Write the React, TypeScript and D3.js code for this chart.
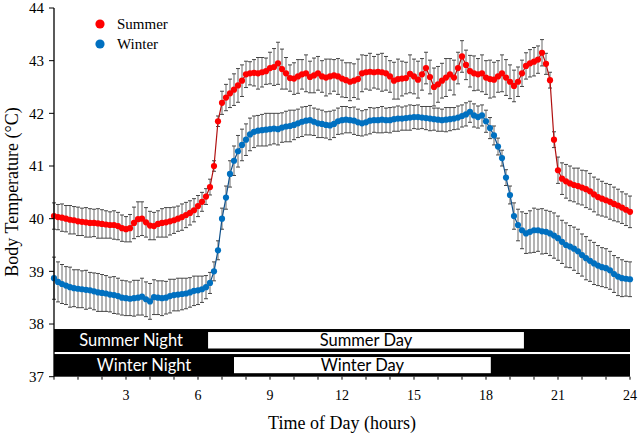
import React from "react";
import * as d3 from "d3";

// Time step: 10 minutes (0 .. 24 h)
const STEP_HOURS = 1 / 6;

const summerTemp: number[] = [
  40.05, 40.03, 40.02, 40.0, 39.98, 39.97,
  39.95, 39.94, 39.93, 39.92, 39.92, 39.91,
  39.9, 39.89, 39.88, 39.88, 39.86, 39.82,
  39.8, 39.82, 39.92, 39.99, 40.0, 39.93,
  39.87, 39.86, 39.9, 39.92, 39.93, 39.95,
  39.97, 40.0, 40.03, 40.07, 40.11, 40.16,
  40.24, 40.32, 40.42, 40.6, 41.0, 41.85,
  42.2, 42.3, 42.38, 42.45, 42.53, 42.62,
  42.74, 42.76, 42.77, 42.76, 42.78, 42.8,
  42.86, 42.88, 42.95, 42.84, 42.76, 42.67,
  42.66, 42.7, 42.74, 42.76, 42.69, 42.72,
  42.76, 42.7, 42.68, 42.7, 42.72, 42.7,
  42.66, 42.63, 42.6, 42.62, 42.65, 42.76,
  42.78, 42.79, 42.78, 42.79, 42.78, 42.76,
  42.7, 42.62, 42.65, 42.66, 42.67, 42.75,
  42.7, 42.64, 42.74, 42.86, 42.69, 42.5,
  42.55, 42.62, 42.68, 42.74, 42.68, 42.86,
  43.08, 42.92, 42.8, 42.76, 42.74, 42.76,
  42.68, 42.65, 42.64, 42.7, 42.76, 42.68,
  42.6, 42.52, 42.6, 42.76, 42.9, 42.95,
  42.98, 43.02, 43.15, 42.94, 42.63, 41.5,
  40.92, 40.76, 40.71, 40.67, 40.64, 40.62,
  40.59, 40.56, 40.52, 40.46, 40.41, 40.38,
  40.35, 40.32, 40.28, 40.25, 40.21, 40.17,
  40.13,
];

const summerErr: number[] = [
  0.25, 0.24, 0.26, 0.25, 0.27, 0.26,
  0.27, 0.26, 0.28, 0.27, 0.26, 0.28,
  0.27, 0.26, 0.25, 0.27, 0.26, 0.25,
  0.24, 0.26, 0.3, 0.33, 0.32, 0.28,
  0.27, 0.26, 0.25, 0.27, 0.28, 0.26,
  0.25, 0.24, 0.25, 0.24, 0.23, 0.22,
  0.2, 0.18, 0.15, 0.15, 0.1, 0.1,
  0.22, 0.25, 0.27, 0.3, 0.32, 0.3,
  0.25, 0.22, 0.25, 0.3, 0.28, 0.25,
  0.3, 0.35, 0.4, 0.38, 0.3, 0.25,
  0.3, 0.32, 0.28, 0.35, 0.3, 0.33,
  0.32, 0.3, 0.35, 0.33, 0.3, 0.34,
  0.35, 0.33, 0.36, 0.32, 0.38, 0.35,
  0.32, 0.35, 0.3, 0.33, 0.36, 0.32,
  0.3, 0.35, 0.38, 0.33, 0.3, 0.36,
  0.33, 0.35, 0.3, 0.3, 0.32, 0.36,
  0.34, 0.33, 0.36, 0.3, 0.33, 0.3,
  0.3, 0.28, 0.3, 0.33, 0.3, 0.35,
  0.32, 0.36, 0.33, 0.3, 0.35, 0.34,
  0.32, 0.3, 0.28, 0.25, 0.25, 0.26,
  0.27, 0.26, 0.25, 0.2, 0.15, 0.15,
  0.25, 0.3, 0.32, 0.33, 0.32, 0.34,
  0.33, 0.35, 0.34, 0.33, 0.34, 0.33,
  0.32, 0.33, 0.32, 0.31, 0.3, 0.3,
  0.3,
];

const winterTemp: number[] = [
  38.87, 38.8, 38.76, 38.73, 38.7, 38.68,
  38.67, 38.66, 38.65, 38.64, 38.62, 38.6,
  38.59, 38.58, 38.56, 38.55, 38.53, 38.5,
  38.49, 38.48, 38.49, 38.5, 38.52, 38.47,
  38.43, 38.51, 38.5, 38.49, 38.5, 38.53,
  38.55, 38.56, 38.57, 38.58, 38.6, 38.63,
  38.64, 38.66, 38.7, 38.78, 39.0, 39.4,
  40.0, 40.4, 40.85, 41.1, 41.28, 41.4,
  41.5, 41.6, 41.65, 41.67, 41.68, 41.69,
  41.7, 41.71, 41.7, 41.73, 41.75, 41.76,
  41.78, 41.81, 41.84, 41.86, 41.87, 41.84,
  41.81, 41.8, 41.78, 41.77, 41.8, 41.85,
  41.87, 41.88, 41.87, 41.86, 41.83, 41.81,
  41.83, 41.86, 41.87, 41.87, 41.88, 41.87,
  41.87, 41.89, 41.9, 41.9, 41.91, 41.92,
  41.93, 41.93, 41.92, 41.91, 41.9, 41.89,
  41.88, 41.87, 41.88, 41.89, 41.9, 41.92,
  41.95, 41.98, 42.03, 41.96, 41.93, 41.96,
  41.85, 41.72, 41.58, 41.37, 41.15, 40.78,
  40.45, 40.05, 39.88, 39.78, 39.72, 39.75,
  39.78, 39.78, 39.76, 39.75, 39.72, 39.68,
  39.63, 39.56, 39.5, 39.47, 39.43, 39.38,
  39.31, 39.25, 39.2, 39.15, 39.11, 39.08,
  39.06, 39.02, 38.95, 38.9, 38.87, 38.86,
  38.85,
];

const winterErr: number[] = [
  0.4, 0.38, 0.37, 0.36, 0.38, 0.35,
  0.36, 0.35, 0.37, 0.34, 0.35, 0.36,
  0.35, 0.34, 0.33, 0.35, 0.34, 0.33,
  0.33, 0.32, 0.34, 0.33, 0.35, 0.33,
  0.34, 0.33, 0.32, 0.33, 0.31, 0.32,
  0.3, 0.31, 0.3, 0.29, 0.28, 0.28,
  0.27, 0.25, 0.22, 0.2, 0.18, 0.18,
  0.2, 0.22, 0.25, 0.28, 0.3, 0.3,
  0.3, 0.31, 0.3, 0.29, 0.3, 0.31,
  0.3, 0.29, 0.3, 0.28, 0.29, 0.3,
  0.28, 0.27, 0.28, 0.27, 0.28, 0.26,
  0.27, 0.26, 0.25, 0.27, 0.26, 0.25,
  0.26, 0.25, 0.24, 0.26, 0.25, 0.24,
  0.24, 0.25, 0.23, 0.24, 0.25, 0.23,
  0.24, 0.23, 0.24, 0.22, 0.23, 0.24,
  0.22, 0.23, 0.21, 0.22, 0.23, 0.21,
  0.22, 0.21, 0.23, 0.22, 0.21, 0.22,
  0.21, 0.22, 0.2, 0.22, 0.21, 0.2,
  0.21, 0.2, 0.18, 0.16, 0.15, 0.15,
  0.17, 0.25, 0.3, 0.35, 0.38, 0.4,
  0.42, 0.4, 0.43, 0.41, 0.42, 0.43,
  0.42, 0.41, 0.42, 0.4, 0.41, 0.42,
  0.4, 0.41, 0.39, 0.4, 0.38, 0.37,
  0.37, 0.36, 0.35, 0.36, 0.35, 0.33,
  0.33,
];

const xTickValues = [3, 6, 9, 12, 15, 18, 21, 24];
const xMinorTicks = d3.range(0, 25, 1);
const yTickValues = [37, 38, 39, 40, 41, 42, 43, 44];

// Light schedule bands
const summerBand = { night: "Summer Night", day: "Summer Day", dayStart: 6.42, dayEnd: 19.58 };
const winterBand = { night: "Winter Night", day: "Winter Day", dayStart: 7.5, dayEnd: 18.2 };

const seriesNames = ["Summer", "Winter"];
const seriesColors = ["#ff0000", "#0070c0"];
const lineColors = ["#b01010", "#10508a"];

const W = 638;
const H = 435;

export default function App() {
  const x = d3.scaleLinear().domain([0, 24]).range([54, 630]);
  const y = d3.scaleLinear().domain([37, 44]).range([376.7, 8]);

  const series = [
    { temp: summerTemp, err: summerErr },
    { temp: winterTemp, err: winterErr },
  ];

  const line = d3
    .line<number>()
    .x((_, i) => x(i * STEP_HOURS))
    .y((d) => y(d));

  const serif = "'Liberation Serif', 'Times New Roman', serif";
  const sans = "Lato, 'Open Sans', sans-serif";

  const bandRows = [
    { band: summerBand, top: 37.905, bottom: 37.469 },
    { band: winterBand, top: 37.43, bottom: 37.0 },
  ];

  return (
    <svg
      width={W}
      height={H}
      style={{ position: "absolute", left: 0, top: 0, background: "#fff" }}
    >
      {/* error bars */}
      {series.map((s, si) => (
        <g key={"eb" + si}>
          {s.temp.map((v, i) => {
            const cx = x(i * STEP_HOURS);
            const y1 = y(v + s.err[i]);
            const y2 = y(v - s.err[i]);
            return (
              <g key={i}>
                <line x1={cx} x2={cx} y1={y1} y2={y2} stroke="#8c8c8c" strokeWidth={1.3} />
                <line x1={cx - 2} x2={cx + 2} y1={y1} y2={y1} stroke="#333" strokeWidth={0.9} />
                <line x1={cx - 2} x2={cx + 2} y1={y2} y2={y2} stroke="#333" strokeWidth={0.9} />
              </g>
            );
          })}
        </g>
      ))}

      {/* lines + markers */}
      {series.map((s, si) => (
        <g key={"ln" + si}>
          <path d={line(s.temp) || ""} fill="none" stroke={lineColors[si]} strokeWidth={1.2} />
          {s.temp.map((v, i) => (
            <circle key={i} cx={x(i * STEP_HOURS)} cy={y(v)} r={3.1} fill={seriesColors[si]} />
          ))}
        </g>
      ))}

      {/* light schedule bars */}
      {bandRows.map((r, ri) => {
        const top = y(r.top);
        const bot = y(r.bottom);
        const h = bot - top;
        const x0 = x(r.band.dayStart);
        const x1 = x(r.band.dayEnd);
        return (
          <g key={"band" + ri}>
            <rect x={x(0)} y={top} width={x(24) - x(0)} height={h} fill="#000" />
            <rect x={x0} y={top + 3} width={x1 - x0} height={h - 6.5} fill="#fff" />
            <text
              x={(x(0) + x0) / 2}
              y={top + h / 2}
              dy="0.36em"
              textAnchor="middle"
              fill="#fff"
              fontFamily={sans}
              fontSize={16.5}
            >
              {r.band.night}
            </text>
            <text
              x={(x0 + x1) / 2}
              y={top + h / 2}
              dy="0.36em"
              textAnchor="middle"
              fill="#000"
              fontFamily={sans}
              fontSize={16.5}
            >
              {r.band.day}
            </text>
          </g>
        );
      })}

      {/* y axis */}
      <line x1={x(0)} x2={x(0)} y1={y(44)} y2={y(37)} stroke="#000" strokeWidth={1.3} />
      {yTickValues.map((t) => (
        <g key={"yt" + t}>
          <line x1={x(0) - 5} x2={x(0)} y1={y(t)} y2={y(t)} stroke="#000" strokeWidth={1} />
          <text
            x={x(0) - 10}
            y={y(t)}
            dy="0.35em"
            textAnchor="end"
            fontFamily={serif}
            fontSize={15}
            fill="#000"
          >
            {t}
          </text>
        </g>
      ))}

      {/* x axis */}
      {xMinorTicks.map((t) => (
        <line key={"xm" + t} x1={x(t)} x2={x(t)} y1={y(37)} y2={y(37) + 3} stroke="#000" strokeWidth={1} />
      ))}
      {xTickValues.map((t) => (
        <text
          key={"xt" + t}
          x={x(t)}
          y={400}
          textAnchor="middle"
          fontFamily={serif}
          fontSize={14}
          fill="#000"
        >
          {t}
        </text>
      ))}

      {/* axis titles */}
      <text x={342} y={429} textAnchor="middle" fontFamily={serif} fontSize={18} fill="#000">
        Time of Day (hours)
      </text>
      <text
        transform={`translate(18,192) rotate(-90)`}
        textAnchor="middle"
        fontFamily={serif}
        fontSize={18}
        fill="#000"
      >
        Body Temperature (°C)
      </text>

      {/* legend */}
      {seriesNames.map((n, i) => (
        <g key={"lg" + i} transform={`translate(100,${24 + i * 20})`}>
          <circle cx={0} cy={0} r={4.6} fill={seriesColors[i]} />
          <text x={17} y={0} dy="0.33em" fontFamily={serif} fontSize={15} fill="#000">
            {n}
          </text>
        </g>
      ))}
    </svg>
  );
}
